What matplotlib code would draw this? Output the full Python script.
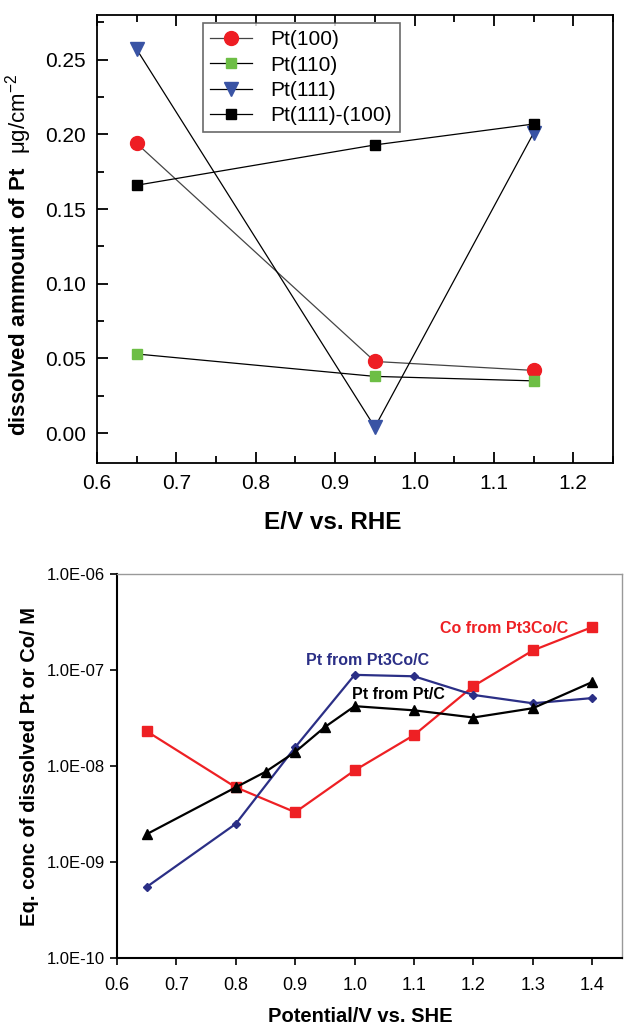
import numpy as np
import matplotlib
matplotlib.use("Agg")
import matplotlib.pyplot as plt
from matplotlib.ticker import FixedLocator, NullLocator, MultipleLocator

plt.rcParams['font.family'] = ['Liberation Sans', 'DejaVu Sans']
plt.rcParams['mathtext.fontset'] = 'custom'
plt.rcParams['mathtext.rm'] = 'Liberation Sans'
plt.rcParams['mathtext.bf'] = 'Liberation Sans:bold'

# top panel data: dissolved Pt per facet
E_rhe = [0.65, 0.95, 1.15]
pt100 = [0.194, 0.048, 0.042]
pt110 = [0.053, 0.038, 0.035]
pt111 = [0.257, 0.004, 0.201]
pt111_100 = [0.166, 0.193, 0.207]

# bottom panel data: equilibrium concentrations
E_she = [0.65, 0.8, 0.9, 1.0, 1.1, 1.2, 1.3, 1.4]
co_pt3co = [2.3e-8, 6.0e-9, 3.3e-9, 9.0e-9, 2.1e-8, 6.8e-8, 1.6e-7, 2.8e-7]
pt_pt3co = [5.5e-10, 2.5e-9, 1.57e-8, 8.9e-8, 8.6e-8, 5.5e-8, 4.5e-8, 5.1e-8]
E_she_ptc = [0.65, 0.8, 0.85, 0.9, 0.95, 1.0, 1.1, 1.2, 1.3, 1.4]
pt_ptc = [1.95e-9, 6.0e-9, 8.7e-9, 1.4e-8, 2.55e-8, 4.2e-8, 3.8e-8, 3.2e-8, 4.0e-8, 7.5e-8]

fig = plt.figure(figsize=(6.27, 10.26), dpi=100)

# ---- top panel
ax1 = fig.add_axes([97/627, 1-463/1026, 516/627, 448/1026])
ax1.plot(E_rhe, pt100, '-', color='#444444', lw=0.9, marker='o', ms=10,
         mfc='#ee1d23', mec='#ee1d23', label='Pt(100)')
ax1.plot(E_rhe, pt110, '-', color='black', lw=0.9, marker='s', ms=7,
         mfc='#6dbe45', mec='#6dbe45', label='Pt(110)')
ax1.plot(E_rhe, pt111, '-', color='black', lw=0.9, marker='v', ms=9.5,
         mfc='#3953a4', mec='#3953a4', label='Pt(111)')
ax1.plot(E_rhe, pt111_100, '-', color='black', lw=0.9, marker='s', ms=7,
         mfc='black', mec='black', label='Pt(111)-(100)')
ax1.set_xlim(0.6, 1.25)
ax1.set_ylim(-0.02, 0.28)
ax1.xaxis.set_major_locator(MultipleLocator(0.1))
ax1.xaxis.set_minor_locator(MultipleLocator(0.05))
ax1.yaxis.set_major_locator(MultipleLocator(0.05))
ax1.yaxis.set_minor_locator(MultipleLocator(0.025))
ax1.yaxis.set_major_formatter(plt.FormatStrFormatter('%.2f'))
ax1.xaxis.set_major_formatter(plt.FormatStrFormatter('%.1f'))
ax1.tick_params(which='both', direction='in', top=True, right=False, labelsize=15, width=1.3)
ax1.tick_params(which='major', length=8, pad=8)
ax1.tick_params(which='minor', length=5)
for s in ax1.spines.values():
    s.set_linewidth(1.3)
ax1.set_xlabel('E/V vs. RHE', fontsize=17.5, fontweight='bold')
ax1.xaxis.set_label_coords(0.457, -0.108)
ax1.set_ylabel(r'$\mathbf{dissolved\ ammount\ of\ Pt}\ \ \mathrm{\mu g/cm}^{-2}$',
               fontsize=16)
ax1.yaxis.set_label_coords(-0.122, 0.464)
leg = ax1.legend(loc='upper left', bbox_to_anchor=(106/516, 1-8/448), fontsize=15,
                 frameon=True, fancybox=False, edgecolor='#444444',
                 handlelength=2.0, labelspacing=0.3, borderpad=0.35,
                 handletextpad=0.9, borderaxespad=0)
leg.get_frame().set_linewidth(1.2)

# ---- bottom panel
ax2 = fig.add_axes([117/627, 1-958/1026, 505/627, 384/1026])
ax2.plot(E_she, co_pt3co, '-', color='#ee2024', lw=1.6, marker='s', ms=6.5,
         mfc='#ee2024', mec='#ee2024')
ax2.plot(E_she, pt_pt3co, '-', color='#2b2f86', lw=1.6, marker='D', ms=4.5,
         mfc='#2b2f86', mec='#2b2f86')
ax2.plot(E_she_ptc, pt_ptc, '-', color='black', lw=1.6, marker='^', ms=6.5,
         mfc='black', mec='black')
ax2.set_yscale('log')
ax2.set_xlim(0.6, 1.45)
ax2.set_ylim(1e-10, 1e-6)
ax2.xaxis.set_major_locator(FixedLocator([0.6, 0.7, 0.8, 0.9, 1.0, 1.1, 1.2, 1.3, 1.4]))
ax2.xaxis.set_major_formatter(plt.FormatStrFormatter('%.1f'))
ax2.yaxis.set_major_locator(FixedLocator([1e-10, 1e-9, 1e-8, 1e-7, 1e-6]))
ax2.yaxis.set_minor_locator(NullLocator())
ax2.set_yticklabels(['1.0E-10', '1.0E-09', '1.0E-08', '1.0E-07', '1.0E-06'])
ax2.tick_params(direction='out', length=5, width=1.2, labelsize=12)
ax2.tick_params(axis='x', labelsize=13, pad=9)
ax2.spines['left'].set_linewidth(1.5)
ax2.spines['bottom'].set_linewidth(1.5)
ax2.spines['top'].set_color('#999999')
ax2.spines['right'].set_color('#999999')
ax2.spines['top'].set_linewidth(1.0)
ax2.spines['right'].set_linewidth(1.0)
ax2.set_xlabel('Potential/V vs. SHE', fontsize=14.5, fontweight='bold')
ax2.xaxis.set_label_coords(0.481, -0.128)
ax2.set_ylabel('Eq. conc of dissolved Pt or Co/ M', fontsize=14.5,
               fontweight='bold', labelpad=6)

ax2.text(1.1435, 2.73e-7, 'Co from Pt3Co/C', color='#ee2024', fontsize=11.5,
         fontweight='bold', va='center')
ax2.text(0.918, 1.27e-7, 'Pt from Pt3Co/C', color='#2b2f86', fontsize=11.5,
         fontweight='bold', va='center')
ax2.text(0.995, 5.5e-8, 'Pt from Pt/C', color='black', fontsize=11.5,
         fontweight='bold', va='center')

fig.savefig('out.png', dpi=100)
